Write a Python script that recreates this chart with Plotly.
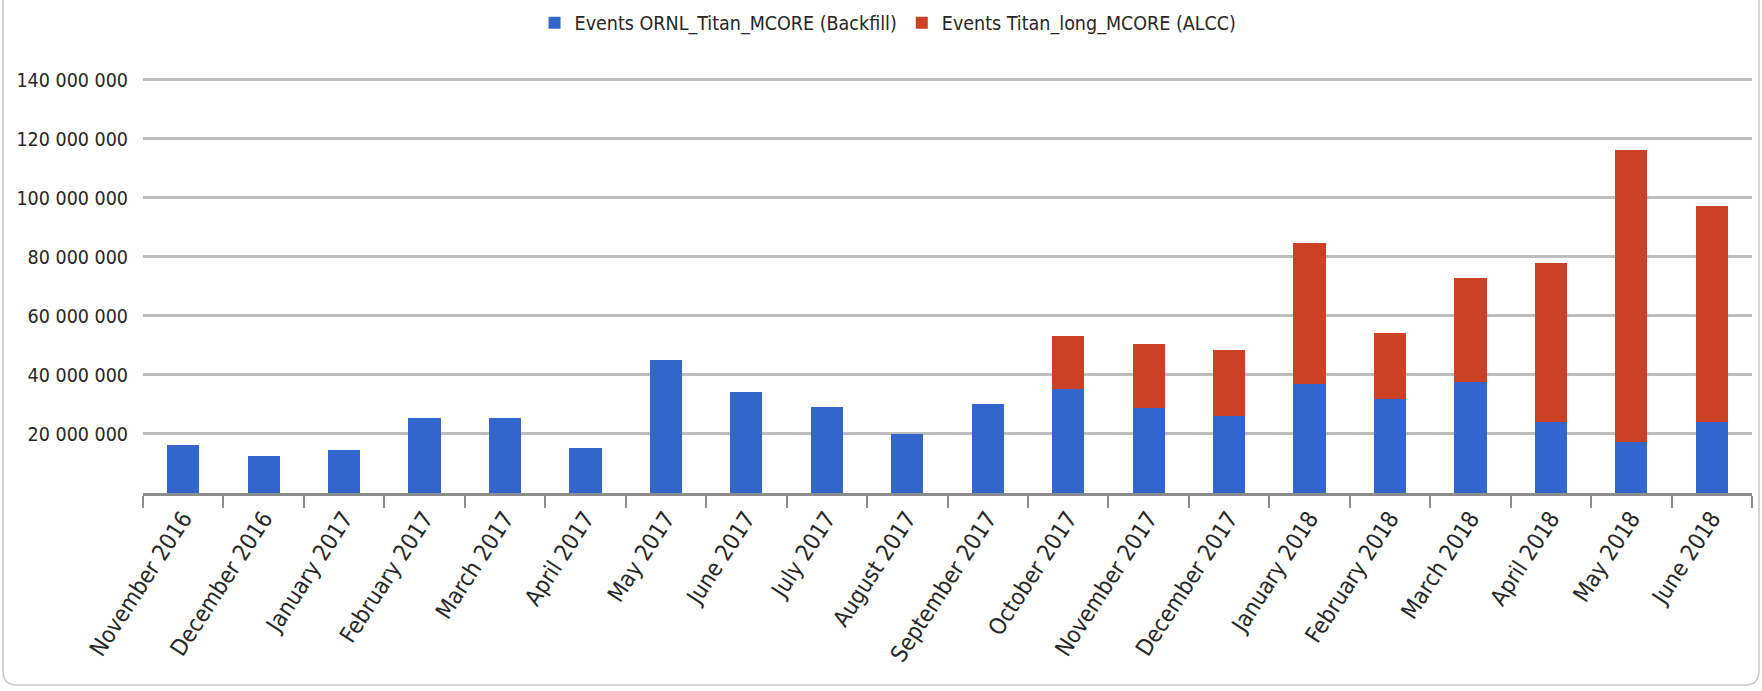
import plotly.graph_objects as go

# Monthly event counts per queue (stacked)
months = [
    "November 2016", "December 2016", "January 2017", "February 2017",
    "March 2017", "April 2017", "May 2017", "June 2017", "July 2017",
    "August 2017", "September 2017", "October 2017", "November 2017",
    "December 2017", "January 2018", "February 2018", "March 2018",
    "April 2018", "May 2018", "June 2018",
]
backfill_events = [
    16.4e6, 12.5e6, 14.5e6, 25.4e6, 25.4e6, 15.3e6, 45.2e6, 34.2e6, 29.2e6,
    20.1e6, 30.1e6, 35.1e6, 28.9e6, 26.0e6, 36.8e6, 31.9e6, 37.7e6,
    24.1e6, 17.2e6, 24.1e6,
]
alcc_events = [
    0, 0, 0, 0, 0, 0, 0, 0, 0,
    0, 0, 18.2e6, 21.6e6, 22.5e6, 48.0e6, 22.4e6, 35.2e6,
    53.7e6, 98.9e6, 73.2e6,
]
y_ticks = [20e6, 40e6, 60e6, 80e6, 100e6, 120e6, 140e6]
y_tick_text = [f"{v:,.0f}".replace(",", " ") for v in y_ticks]

BLUE = "#3366CC"
RED = "#CC4125"
FONT = "DejaVu Sans Condensed, Liberation Sans Narrow, Roboto, sans-serif"
TEXT = "#262626"

W, H = 1762, 691
ML, MR, MT, MB = 143, 10, 78, 198

fig = go.Figure()
fig.add_trace(go.Bar(
    x=months, y=backfill_events, name="Events ORNL_Titan_MCORE (Backfill)",
    marker=dict(color=BLUE, line=dict(width=0)),
))
fig.add_trace(go.Bar(
    x=months, y=alcc_events, name="Events Titan_long_MCORE (ALCC)",
    marker=dict(color=RED, line=dict(width=0)),
))

# rounded frame around the chart
pw, ph = W - ML - MR, H - MT - MB
def px_x(p):
    return (p - ML) / pw
def px_y(p):
    return (H - MB - p) / ph
x0, x1, yb, yt, r = 3, 1759, 685, -10, 14
frame = (
    f"M {px_x(x0)},{px_y(yt)} L {px_x(x0)},{px_y(yb - r)} "
    f"Q {px_x(x0)},{px_y(yb)} {px_x(x0 + r)},{px_y(yb)} "
    f"L {px_x(x1 - r)},{px_y(yb)} Q {px_x(x1)},{px_y(yb)} {px_x(x1)},{px_y(yb - r)} "
    f"L {px_x(x1)},{px_y(yt)}"
)

fig.update_layout(
    width=W, height=H,
    margin=dict(l=ML, r=MR, t=MT, b=MB, autoexpand=False),
    barmode="stack", bargap=0.6,
    paper_bgcolor="white", plot_bgcolor="white",
    font=dict(family=FONT, size=19, color=TEXT),
    legend=dict(
        orientation="h", xref="container", yref="container",
        x=0.504, xanchor="center", y=0.995, yanchor="top",
        font=dict(size=19.5, color=TEXT), traceorder="normal",
        itemwidth=30,
    ),
    shapes=[dict(
        type="path", path=frame, xref="paper", yref="paper",
        line=dict(color="#c8c8c8", width=1.5), layer="below",
    )],
    xaxis=dict(
        type="category", tickson="boundaries",
        ticks="outside", ticklen=12, tickwidth=1.5, tickcolor="#8c8c8c",
        showline=True, linecolor="#8c8c8c", linewidth=2.5,
        showgrid=False, tickangle=-57,
        tickfont=dict(family=FONT, size=23, color=TEXT),
    ),
    yaxis=dict(
        range=[0, 140.6e6], tickmode="array", tickvals=y_ticks, ticktext=y_tick_text,
        showgrid=True, gridcolor="#bdbdbd", gridwidth=2.5,
        zeroline=False, showline=False, ticks="",
        ticklabelstandoff=14,
        tickfont=dict(family=FONT, size=19.5, color=TEXT),
    ),
)

fig.write_html("out.html")
